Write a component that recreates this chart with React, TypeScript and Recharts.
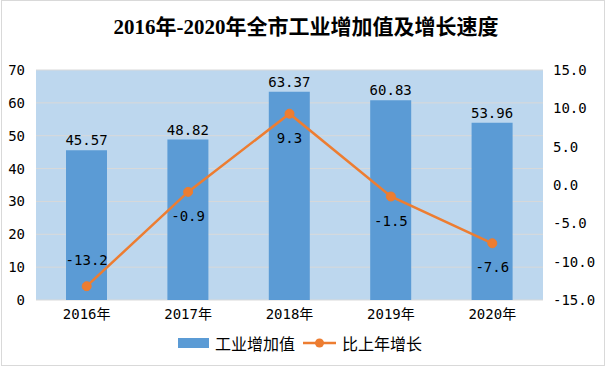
import React from 'react';
import { ComposedChart, Bar, Line, XAxis, YAxis, CartesianGrid, LabelList } from 'recharts';

const years = ['2016年', '2017年', '2018年', '2019年', '2020年'];
const industryValue = [45.57, 48.82, 63.37, 60.83, 53.96];
const growthRate = [-13.2, -0.9, 9.3, -1.5, -7.6];
const leftTicks = [0, 10, 20, 30, 40, 50, 60, 70];
const rightTicks = [-15, -10, -5, 0, 5, 10, 15];

const data = years.map((y, i) => ({ year: y, value: industryValue[i], growth: growthRate[i] }));

const MONO = "'DejaVu Sans Mono', 'Noto Sans CJK SC', monospace";
const CJK = "'Noto Sans CJK SC', sans-serif";

const GrowthLabel = (props: any) => {
  const { x, y, value, index } = props;
  const ty = index === 0 ? y - 26 : y + 24;
  return (
    <text x={x} y={ty} textAnchor="middle" dominantBaseline="central" fontFamily={MONO} fontSize={14} fill="#000">
      {Number(value).toFixed(1)}
    </text>
  );
};

export default function App() {
  return (
    <div style={{ position: 'fixed', left: 0, top: 0, width: 606, height: 367, background: '#fff', overflow: 'hidden' }}>
      <div style={{ position: 'absolute', left: 1, top: 0, width: 602, height: 364, border: '1px solid #D9D9D9' }} />
      <div style={{ position: 'absolute', left: 3, top: 13, width: 606, textAlign: 'center', fontFamily: "'Liberation Serif', 'Noto Sans CJK SC', serif", fontWeight: 'bold', fontSize: 21, lineHeight: '28px', color: '#000', whiteSpace: 'nowrap' }}>
        2016年-2020年全市工业增加值及增长速度
      </div>
      <div style={{ position: 'absolute', left: 0, top: 0 }}>
        <ComposedChart width={606} height={367} data={data} margin={{ top: 70, right: 0, bottom: 37, left: 0 }}>
          <CartesianGrid yAxisId="left" vertical={false} fill="#BDD7EE" stroke="#D9D9D9" strokeWidth={1} />
          <XAxis dataKey="year" axisLine={false} tickLine={false} tickSize={0} tickMargin={9} height={30}
            tick={{ fontFamily: MONO, fontSize: 14, fill: '#000' }} interval={0} />
          <YAxis yAxisId="left" domain={[0, 70]} ticks={leftTicks} width={36} axisLine={false} tickLine={false}
            tickSize={0} tickMargin={11} tick={{ fontFamily: MONO, fontSize: 14, fill: '#000' }} />
          <YAxis yAxisId="right" orientation="right" domain={[-15, 15]} ticks={rightTicks} width={63} axisLine={false}
            tickLine={false} tickSize={0} tickMargin={10} tickFormatter={(v: number) => v.toFixed(1)}
            tick={{ fontFamily: MONO, fontSize: 14, fill: '#000', textAnchor: 'start' }} />
          <Bar yAxisId="left" dataKey="value" fill="#5B9BD5" barSize={41} isAnimationActive={false}>
            <LabelList dataKey="value" position="top" offset={5} fontFamily={MONO} fontSize={14} fill="#000"
              formatter={(v: any) => Number(v).toFixed(2)} />
          </Bar>
          <Line yAxisId="right" dataKey="growth" stroke="#ED7D31" strokeWidth={2.5}
            dot={{ r: 4.5, fill: '#ED7D31', stroke: '#ED7D31', strokeWidth: 1 }} activeDot={false} isAnimationActive={false}>
            <LabelList dataKey="growth" content={GrowthLabel} />
          </Line>
        </ComposedChart>
      </div>
      <div style={{ position: 'absolute', left: 178, top: 333, height: 20, display: 'flex', alignItems: 'center', fontFamily: CJK, fontSize: 16, color: '#000', whiteSpace: 'nowrap' }}>
        <div style={{ width: 31, height: 10, background: '#5B9BD5', marginRight: 6 }} />
        <span style={{ marginRight: 8 }}>工业增加值</span>
        <svg width={33} height={12} style={{ marginRight: 6 }}>
          <line x1={0} y1={6} x2={33} y2={6} stroke="#ED7D31" strokeWidth={2.5} />
          <circle cx={16.5} cy={6} r={4.5} fill="#ED7D31" />
        </svg>
        <span>比上年增长</span>
      </div>
    </div>
  );
}
